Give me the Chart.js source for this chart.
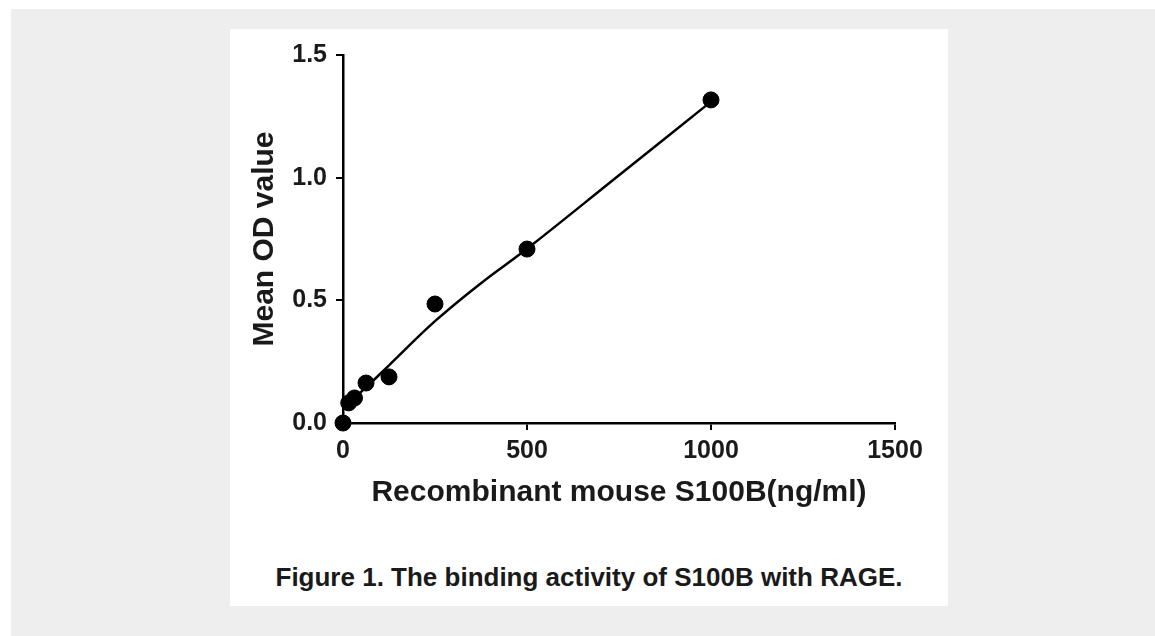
<!DOCTYPE html>
<html>
<head>
<meta charset="utf-8">
<script src="https://cdn.jsdelivr.net/npm/chart.js@4"></script>
<style>
  body { margin: 0; background: #fff; width: 1155px; height: 636px; overflow: hidden; position: relative; font-family: "Liberation Sans", Arial, sans-serif; }
  #bg { position: absolute; left: 11px; top: 9px; right: 0; bottom: 0; background: #eeeeee; }
  #panel { position: absolute; left: 230px; top: 29px; width: 718px; height: 577px; background: #fff; }
  #chart-wrap { position: absolute; left: 0; top: 0; width: 718px; height: 501px; }
  #caption { position: absolute; left: 230px; width: 718px; top: 562px; text-align: center; font-weight: bold; font-size: 26px; color: #1a1a1a; }
</style>
</head>
<body>
<div id="bg"></div>
<div id="panel">
  <div id="chart-wrap"><canvas id="binding-chart"></canvas></div>
</div>
<div id="caption">Figure 1. The binding activity of S100B with RAGE.</div>

<script>
// measured points
var concentration = [0, 15.6, 31.25, 62.5, 125, 250, 500, 1000];
var meanOD = [0.0, 0.082, 0.102, 0.163, 0.188, 0.485, 0.709, 1.317];

// fitted curve
var fitX = [0, 62.5, 125, 250, 375, 500, 750, 1000];
var fitY = [0.06, 0.145, 0.235, 0.415, 0.57, 0.71, 1.01, 1.31];

var xTicks = [0, 500, 1000, 1500];
var yTicks = [0, 0.5, 1.0, 1.5];

function toPoints(xs, ys) {
    return xs.map(function (x, i) { return { x: x, y: ys[i] }; });
}

var ink = '#1a1a1a';

var chartData = {
    datasets: [{
        label: 'Mean OD',
        data: toPoints(concentration, meanOD),
        backgroundColor: '#000',
        borderColor: '#000',
        pointRadius: 8,
        pointHoverRadius: 8,
        showLine: false,
        clip: false
    }, {
        label: 'Fit',
        data: toPoints(fitX, fitY),
        borderColor: '#000',
        borderWidth: 2.5,
        pointRadius: 0,
        showLine: true,
        tension: 0.4,
        clip: false
    }]
};

var chartOptions = {
    responsive: true,
    maintainAspectRatio: false,
    animation: false,
    layout: {
        padding: { top: 26, right: 53, bottom: 0, left: 0 }
    },
    plugins: {
        legend: { display: false },
        tooltip: { enabled: false }
    },
    scales: {
        x: {
            type: 'linear',
            min: 0,
            max: 1500,
            afterBuildTicks: function (scale) {
                scale.ticks = xTicks.map(function (v) { return { value: v }; });
            },
            afterFit: function (scale) { scale.height = 107; },
            grid: { drawOnChartArea: false, drawTicks: true, tickLength: 7, color: '#000', lineWidth: 2 },
            border: { display: true, color: '#000', width: 2.5 },
            ticks: {
                padding: 6,
                color: ink,
                font: { family: 'Liberation Sans', size: 25, weight: 'bold' },
                maxRotation: 0,
                callback: function (v) { return String(v); }
            },
            title: {
                display: true,
                text: 'Recombinant mouse S100B(ng/ml)',
                color: ink,
                font: { family: 'Liberation Sans', size: 30, weight: 'bold' },
                padding: { top: 0, bottom: 19 }
            }
        },
        y: {
            type: 'linear',
            min: 0,
            max: 1.5,
            afterBuildTicks: function (scale) {
                scale.ticks = yTicks.map(function (v) { return { value: v }; });
            },
            afterFit: function (scale) { scale.width = 113; },
            grid: { drawOnChartArea: false, drawTicks: true, tickLength: 7, color: '#000', lineWidth: 2 },
            border: { display: true, color: '#000', width: 2.5 },
            ticks: {
                padding: 9,
                color: ink,
                font: { family: 'Liberation Sans', size: 25, weight: 'bold' },
                callback: function (v) { return Number(v).toFixed(1); }
            },
            title: {
                display: true,
                text: 'Mean OD value',
                color: ink,
                font: { family: 'Liberation Sans', size: 30, weight: 'bold' },
                padding: { top: 17, bottom: 0 }
            }
        }
    }
};

var bindingChart = new Chart(document.getElementById('binding-chart'), {
    type: 'scatter',
    data: chartData,
    options: chartOptions
});
</script>
</body>
</html>
